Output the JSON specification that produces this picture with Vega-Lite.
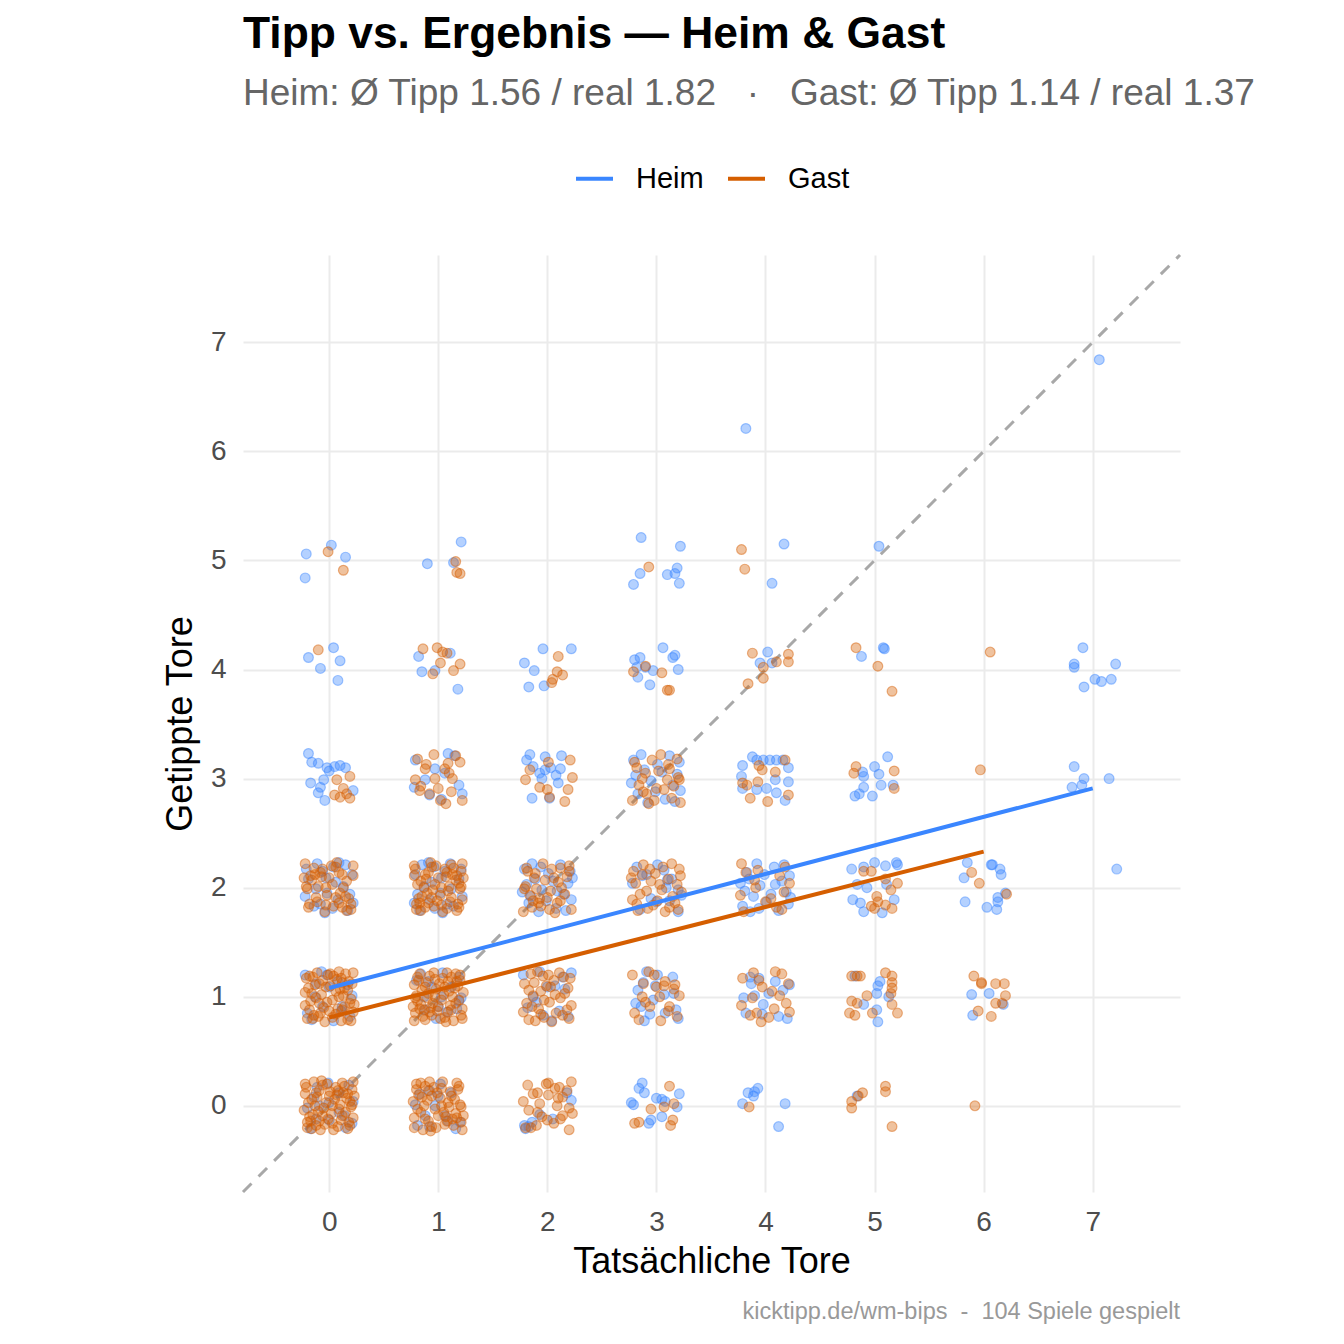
{
  "$schema": "https://vega.github.io/schema/vega-lite/v6.json",
  "width": 937,
  "height": 937,
  "autosize": "none",
  "padding": {"left": 243, "top": 255, "right": 164, "bottom": 152},
  "background": "white",
  "title": {
    "text": "Tipp vs. Ergebnis — Heim & Gast",
    "subtitle": "Heim: Ø Tipp 1.56 / real 1.82\u00a0\u00a0\u00a0·\u00a0\u00a0\u00a0Gast: Ø Tipp 1.14 / real 1.37",
    "anchor": "start",
    "frame": "group",
    "font": "Liberation Sans",
    "fontSize": 44.4,
    "fontWeight": "bold",
    "color": "#000000",
    "subtitleFont": "Liberation Sans",
    "subtitleFontSize": 37,
    "subtitleColor": "#666666",
    "subtitlePadding": 19,
    "offset": 45
  },
  "datasets": {
    "heim": [
      {"x":0.22,"y":0.04},{"x":0,"y":-0.13},{"x":0.18,"y":0.19},{"x":-0.09,"y":0},{"x":0.15,"y":-0.2},{"x":0.09,"y":0.12},{"x":-0.2,"y":-0.02},{"x":-0.01,"y":0.21},{"x":-0.12,"y":-0.12},{"x":-0.14,"y":0.08},{"x":0.09,"y":-0.06},{"x":-0.11,"y":0.17},{"x":0.21,"y":-0.16},{"x":0,"y":0.03},{"x":0.14,"y":-0.09},{"x":-0.17,"y":-0.21},
      {"x":-0.07,"y":1.23},{"x":0.11,"y":0.87},{"x":-0.22,"y":1.2},{"x":0.04,"y":0.78},{"x":-0.13,"y":1},{"x":0.19,"y":0.82},{"x":0,"y":1.09},{"x":-0.2,"y":0.85},{"x":0.12,"y":0.91},{"x":-0.02,"y":1.2},{"x":0.21,"y":1.01},{"x":-0.12,"y":1.12},{"x":0.08,"y":1.14},{"x":-0.06,"y":0.91},{"x":0.17,"y":1.11},{"x":-0.16,"y":0.79},
      {"x":0.17,"y":1.79},{"x":-0.19,"y":2.08},{"x":0.04,"y":2.19},{"x":-0.02,"y":1.95},{"x":-0.14,"y":1.83},{"x":0.21,"y":2.12},{"x":-0.11,"y":2.22},{"x":0.08,"y":1.89},{"x":0.13,"y":2.01},{"x":-0.04,"y":1.77},{"x":-0.06,"y":2.15},{"x":-0.22,"y":1.92},{"x":0.06,"y":2.05},{"x":0.22,"y":1.86},{"x":0.15,"y":2.21},{"x":-0.12,"y":1.99},{"x":-0.21,"y":2.17},{"x":0.03,"y":1.81},{"x":-0.03,"y":2.09},{"x":0.19,"y":1.94},{"x":0.09,"y":2.23},{"x":-0.08,"y":1.85},
      {"x":-0.19,"y":3.23},{"x":-0.16,"y":3.15},{"x":-0.1,"y":3.14},{"x":-0.02,"y":3.1},{"x":0.05,"y":3.11},{"x":0.1,"y":3.12},{"x":0.15,"y":3.1},{"x":0,"y":3.07},{"x":-0.05,"y":2.99},{"x":-0.17,"y":2.96},{"x":-0.08,"y":2.92},{"x":-0.1,"y":2.87},{"x":0.22,"y":2.89},{"x":-0.04,"y":2.8},
      {"x":-0.19,"y":4.11},{"x":0.04,"y":4.2},{"x":0.1,"y":4.08},{"x":-0.08,"y":4.01},{"x":0.08,"y":3.9},
      {"x":-0.21,"y":5.06},{"x":0.02,"y":5.14},{"x":0.15,"y":5.03},{"x":-0.22,"y":4.84},
      {"x":0.81,"y":-0.18},{"x":1,"y":0.09},{"x":1.2,"y":-0.15},{"x":0.88,"y":-0.09},{"x":1.02,"y":0.2},{"x":0.79,"y":0.01},{"x":1.12,"y":0.12},{"x":0.92,"y":0.14},{"x":1.06,"y":-0.09},{"x":0.83,"y":0.11},{"x":1.16,"y":-0.21},{"x":0.97,"y":0},{"x":1.09,"y":-0.14},{"x":0.92,"y":-0.19},
      {"x":1.04,"y":1.22},{"x":0.87,"y":1},{"x":1.19,"y":1.18},{"x":1,"y":0.91},{"x":0.8,"y":1.15},{"x":1.12,"y":1.09},{"x":0.98,"y":0.8},{"x":1.21,"y":0.99},{"x":0.88,"y":0.88},{"x":1.08,"y":0.86},{"x":0.94,"y":1.09},{"x":1.17,"y":0.89},{"x":0.84,"y":1.21},{"x":1.03,"y":1},{"x":0.91,"y":1.14},{"x":1.19,"y":0.96},
      {"x":0.83,"y":1.79},{"x":1.19,"y":2.08},{"x":0.96,"y":2.19},{"x":1.02,"y":1.95},{"x":1.14,"y":1.83},{"x":0.79,"y":2.12},{"x":1.11,"y":2.22},{"x":0.92,"y":1.89},{"x":0.87,"y":2.01},{"x":1.04,"y":1.77},{"x":1.06,"y":2.15},{"x":1.22,"y":1.92},{"x":0.94,"y":2.05},{"x":0.78,"y":1.86},{"x":0.85,"y":2.21},{"x":1.12,"y":1.99},{"x":1.21,"y":2.17},{"x":0.97,"y":1.81},{"x":1.03,"y":2.09},{"x":0.81,"y":1.94},{"x":0.91,"y":2.23},{"x":1.08,"y":1.85},
      {"x":0.78,"y":2.92},{"x":1.06,"y":3.05},{"x":1.22,"y":2.86},{"x":1.15,"y":3.21},{"x":0.88,"y":2.99},{"x":0.79,"y":3.17},{"x":1.03,"y":2.81},{"x":0.97,"y":3.09},{"x":1.19,"y":2.94},{"x":1.09,"y":3.23},{"x":0.92,"y":2.85},
      {"x":1.11,"y":4.15},{"x":0.82,"y":4.12},{"x":0.85,"y":3.98},{"x":0.97,"y":3.99},{"x":1.18,"y":3.82},
      {"x":0.9,"y":4.97},{"x":1.21,"y":5.17},{"x":1.14,"y":4.98},
      {"x":1.8,"y":-0.21},{"x":1.86,"y":-0.15},{"x":1.83,"y":-0.19},{"x":2.22,"y":0.05},{"x":2.18,"y":0.12},{"x":1.93,"y":-0.08},{"x":2.05,"y":-0.12},{"x":1.79,"y":-0.18},
      {"x":2.14,"y":1.18},{"x":1.96,"y":0.83},{"x":2.22,"y":1.22},{"x":1.82,"y":0.9},{"x":2.07,"y":1.1},{"x":1.9,"y":0.95},{"x":2.16,"y":1.07},{"x":1.93,"y":1.23},{"x":2.11,"y":0.87},{"x":1.78,"y":1.2},{"x":2.04,"y":0.78},{"x":1.87,"y":1},{"x":2.19,"y":0.82},{"x":2,"y":1.09},
      {"x":1.79,"y":2.17},{"x":2.08,"y":1.81},{"x":2.19,"y":2.04},{"x":1.95,"y":1.98},{"x":1.83,"y":1.86},{"x":2.12,"y":2.21},{"x":2.22,"y":1.89},{"x":1.89,"y":2.08},{"x":2.01,"y":2.13},{"x":1.77,"y":1.96},{"x":2.15,"y":1.94},{"x":1.92,"y":1.78},{"x":2.05,"y":2.06},{"x":1.86,"y":2.22},{"x":2.21,"y":2.15},{"x":1.99,"y":1.88},{"x":2.17,"y":1.79},{"x":1.81,"y":2.03},{"x":2.09,"y":1.97},{"x":1.94,"y":2.19},{"x":2.23,"y":2.09},{"x":1.85,"y":1.92},
      {"x":1.84,"y":3.22},{"x":1.81,"y":3.17},{"x":1.98,"y":3.2},{"x":2.13,"y":3.21},{"x":1.87,"y":3.11},{"x":1.93,"y":3.05},{"x":1.98,"y":3.08},{"x":2.03,"y":3.1},{"x":2.08,"y":3.03},{"x":2.12,"y":3.09},{"x":1.95,"y":3},{"x":2.1,"y":2.96},{"x":1.86,"y":2.82},{"x":2.02,"y":2.82},
      {"x":1.96,"y":4.19},{"x":2.22,"y":4.19},{"x":1.79,"y":4.06},{"x":1.88,"y":3.99},{"x":1.83,"y":3.84},{"x":1.97,"y":3.85},
      {"x":2.87,"y":0.21},{"x":2.84,"y":0.16},{"x":2.89,"y":0.12},{"x":2.79,"y":0.01},{"x":2.77,"y":0.03},{"x":3,"y":0.07},{"x":3.05,"y":0.06},{"x":3.08,"y":0.04},{"x":3.21,"y":0.11},{"x":3.19,"y":-0.01},{"x":3.05,"y":-0.1},{"x":2.95,"y":-0.13},{"x":2.93,"y":-0.16},
      {"x":2.81,"y":0.94},{"x":2.91,"y":1.23},{"x":3.08,"y":0.85},{"x":3.16,"y":1.03},{"x":2.89,"y":0.78},{"x":2.88,"y":1.13},{"x":2.97,"y":0.97},{"x":3.15,"y":1.18},{"x":3.18,"y":0.88},{"x":2.83,"y":1.06},{"x":3.2,"y":0.8},{"x":2.99,"y":1.1},{"x":2.86,"y":0.91},{"x":3.01,"y":1.2},{"x":2.94,"y":0.84},{"x":3.07,"y":1.02},
      {"x":3.1,"y":2.07},{"x":2.95,"y":1.9},{"x":3.07,"y":2.16},{"x":3.23,"y":1.93},{"x":2.87,"y":2.11},{"x":3.2,"y":1.78},{"x":2.78,"y":2.04},{"x":3,"y":1.87},{"x":2.82,"y":2.19},{"x":3.09,"y":2},{"x":2.85,"y":1.8},{"x":2.91,"y":2.12},{"x":3.2,"y":1.98},{"x":3.01,"y":2.21},{"x":3.12,"y":1.88},{"x":3.14,"y":2.08},
      {"x":2.79,"y":3.17},{"x":3.08,"y":2.81},{"x":3.19,"y":3.04},{"x":2.95,"y":2.98},{"x":2.83,"y":2.86},{"x":3.12,"y":3.21},{"x":3.22,"y":2.89},{"x":2.89,"y":3.08},{"x":3.01,"y":3.13},{"x":2.77,"y":2.96},{"x":3.15,"y":2.94},{"x":2.92,"y":2.78},{"x":3.05,"y":3.06},{"x":2.86,"y":3.22},{"x":3.21,"y":3.15},{"x":2.99,"y":2.88},{"x":3.17,"y":2.79},{"x":2.81,"y":3.03},
      {"x":3.06,"y":4.2},{"x":3.15,"y":4.11},{"x":3.17,"y":4.13},{"x":2.8,"y":4.09},{"x":2.85,"y":4.11},{"x":2.82,"y":4.02},{"x":2.9,"y":4.02},{"x":2.97,"y":3.99},{"x":2.83,"y":3.93},{"x":3.2,"y":4},{"x":2.94,"y":3.86},
      {"x":2.86,"y":5.21},{"x":3.22,"y":5.13},{"x":2.85,"y":4.88},{"x":2.79,"y":4.78},{"x":3.1,"y":4.87},{"x":3.17,"y":4.88},{"x":3.19,"y":4.93},{"x":3.21,"y":4.79},
      {"x":3.84,"y":0.12},{"x":3.9,"y":0.13},{"x":3.93,"y":0.16},{"x":3.89,"y":0.09},{"x":3.79,"y":0.02},{"x":4.18,"y":0.02},{"x":4.12,"y":-0.19},
      {"x":3.97,"y":0.84},{"x":4.22,"y":1.11},{"x":3.87,"y":1.12},{"x":4.03,"y":1.03},{"x":3.82,"y":0.85},{"x":4.12,"y":0.82},{"x":3.94,"y":1.17},{"x":4.2,"y":0.8},{"x":3.9,"y":1.01},{"x":4.09,"y":1.14},{"x":3.8,"y":0.99},{"x":4.16,"y":1.06},{"x":3.98,"y":0.93},{"x":3.86,"y":1.18},
      {"x":3.79,"y":1.83},{"x":4.08,"y":2.19},{"x":4.19,"y":1.96},{"x":3.95,"y":2.02},{"x":3.83,"y":2.14},{"x":4.12,"y":1.79},{"x":4.22,"y":2.11},{"x":3.89,"y":1.92},{"x":4.01,"y":1.87},{"x":3.77,"y":2.04},{"x":4.15,"y":2.06},{"x":3.92,"y":2.22},{"x":4.05,"y":1.94},{"x":3.86,"y":1.78},{"x":4.21,"y":1.85},{"x":3.99,"y":2.12},{"x":4.17,"y":2.21},{"x":3.81,"y":1.97},{"x":4.09,"y":2.03},{"x":3.94,"y":1.81},{"x":4.23,"y":1.91},{"x":3.85,"y":2.08},
      {"x":3.88,"y":3.2},{"x":3.92,"y":3.17},{"x":3.98,"y":3.17},{"x":4.04,"y":3.17},{"x":4.1,"y":3.17},{"x":4.16,"y":3.17},{"x":3.79,"y":3.12},{"x":3.78,"y":3.02},{"x":4.21,"y":3.1},{"x":4.21,"y":2.97},{"x":4.1,"y":2.87},{"x":4.18,"y":2.8},{"x":3.79,"y":2.91},{"x":4.01,"y":2.91},{"x":4.09,"y":2.99},{"x":3.92,"y":2.9},
      {"x":4.02,"y":4.16},{"x":3.95,"y":4.06},{"x":4.06,"y":4.06},
      {"x":4.17,"y":5.15},{"x":4.06,"y":4.79},
      {"x":3.82,"y":6.21},
      {"x":4.84,"y":0.09},
      {"x":5.05,"y":1.14},{"x":5.03,"y":1.1},{"x":5.02,"y":1.03},{"x":4.9,"y":0.93},{"x":5.02,"y":0.88},{"x":5.03,"y":0.77},{"x":5.13,"y":1},{"x":4.82,"y":1.19},
      {"x":4.79,"y":2.17},{"x":4.9,"y":2.19},{"x":5,"y":2.23},{"x":5.1,"y":2.2},{"x":5.2,"y":2.23},{"x":5.21,"y":2.21},{"x":4.84,"y":2.03},{"x":4.93,"y":2},{"x":5.11,"y":2.03},{"x":4.8,"y":1.89},{"x":4.87,"y":1.86},{"x":5.18,"y":1.89},{"x":4.9,"y":1.78},{"x":5.07,"y":1.77},
      {"x":5.12,"y":3.2},{"x":5,"y":3.11},{"x":4.89,"y":3.06},{"x":4.9,"y":3.02},{"x":5.04,"y":3.04},{"x":5.06,"y":2.94},{"x":5.17,"y":2.94},{"x":4.9,"y":2.92},{"x":4.86,"y":2.86},{"x":4.82,"y":2.84},{"x":4.98,"y":2.84},
      {"x":4.88,"y":4.12},{"x":5.08,"y":4.2},{"x":5.09,"y":4.19},
      {"x":5.04,"y":5.13},
      {"x":5.89,"y":1.02},{"x":6.05,"y":1.03},{"x":6.18,"y":0.93},{"x":5.9,"y":0.83},
      {"x":5.85,"y":2.23},{"x":6.07,"y":2.21},{"x":6.08,"y":2.21},{"x":6.15,"y":2.17},{"x":6.16,"y":2.12},{"x":5.82,"y":2.09},{"x":6.2,"y":1.95},{"x":6.13,"y":1.91},{"x":6.13,"y":1.87},{"x":5.83,"y":1.87},{"x":6.03,"y":1.82},{"x":6.12,"y":1.8},
      {"x":7.22,"y":2.17},{"x":6.83,"y":3.11},{"x":6.92,"y":3},{"x":7.15,"y":3},{"x":6.81,"y":2.92},{"x":6.9,"y":2.94},{"x":6.91,"y":4.2},{"x":6.83,"y":4.05},{"x":6.83,"y":4.02},{"x":7.21,"y":4.05},{"x":7.02,"y":3.91},{"x":7.08,"y":3.89},{"x":7.17,"y":3.91},{"x":6.92,"y":3.84},{"x":7.06,"y":6.84}
    ],
    "gast": [
      {"x":-0.21,"y":0.17},{"x":0.08,"y":-0.19},{"x":0.19,"y":0.04},{"x":-0.05,"y":-0.02},{"x":-0.17,"y":-0.14},{"x":0.12,"y":0.21},{"x":0.22,"y":-0.11},{"x":-0.11,"y":0.08},{"x":0.01,"y":0.13},{"x":-0.23,"y":-0.04},{"x":0.15,"y":-0.06},{"x":-0.08,"y":-0.22},{"x":0.05,"y":0.06},{"x":-0.14,"y":0.22},{"x":0.21,"y":0.15},{"x":-0.01,"y":-0.12},{"x":0.17,"y":-0.21},{"x":-0.19,"y":0.03},{"x":0.09,"y":-0.03},{"x":-0.06,"y":0.19},{"x":0.23,"y":0.09},{"x":-0.15,"y":-0.08},{"x":0.03,"y":-0.16},{"x":-0.22,"y":0.11},{"x":0.13,"y":0.12},{"x":-0.03,"y":0.03},{"x":0.18,"y":-0.15},{"x":-0.12,"y":-0.18},{"x":0.06,"y":0.17},{"x":-0.2,"y":-0.2},{"x":0.1,"y":0.01},{"x":-0.09,"y":0.14},{"x":0.2,"y":-0.01},{"x":-0.16,"y":0.06},{"x":0.02,"y":-0.07},{"x":0.14,"y":0.18},{"x":-0.04,"y":-0.17},{"x":0.22,"y":0.22},{"x":-0.18,"y":-0.1},{"x":0.07,"y":0.1},{"x":-0.1,"y":-0.05},{"x":0.16,"y":0.07},{"x":-0.07,"y":0.23},{"x":0.11,"y":-0.13},{"x":-0.22,"y":0.2},
      {"x":0.04,"y":-0.22},{"x":-0.13,"y":0},{"x":0.19,"y":-0.18},{"x":0,"y":0.09},{"x":-0.2,"y":-0.15},{"x":0.12,"y":-0.09},{"x":-0.02,"y":0.2},{"x":0.21,"y":0.01},{"x":-0.12,"y":0.12},{"x":0.08,"y":0.14},{"x":-0.06,"y":-0.09},{"x":0.17,"y":0.11},{"x":-0.16,"y":-0.21},{"x":0.03,"y":0},{"x":-0.09,"y":-0.14},
      {"x":0.17,"y":0.79},{"x":-0.19,"y":1.08},{"x":0.04,"y":1.19},{"x":-0.02,"y":0.95},{"x":-0.14,"y":0.83},{"x":0.21,"y":1.12},{"x":-0.11,"y":1.22},{"x":0.08,"y":0.89},{"x":0.13,"y":1.01},{"x":-0.04,"y":0.77},{"x":-0.06,"y":1.15},{"x":-0.22,"y":0.92},{"x":0.06,"y":1.05},{"x":0.22,"y":0.86},{"x":0.15,"y":1.21},{"x":-0.12,"y":0.99},{"x":-0.21,"y":1.17},{"x":0.03,"y":0.81},{"x":-0.03,"y":1.09},{"x":0.19,"y":0.94},{"x":0.09,"y":1.23},{"x":-0.08,"y":0.85},{"x":-0.16,"y":1.03},{"x":0.11,"y":0.78},{"x":0.12,"y":1.13},{"x":0.03,"y":0.97},{"x":-0.15,"y":1.18},{"x":-0.18,"y":0.88},{"x":0.17,"y":1.06},{"x":-0.2,"y":0.8},{"x":0.01,"y":1.1},{"x":0.14,"y":0.91},{"x":-0.01,"y":1.2},{"x":0.06,"y":0.84},{"x":-0.07,"y":1.02},{"x":0.18,"y":1.14},{"x":-0.17,"y":0.96},{"x":0.22,"y":1.22},{"x":-0.1,"y":0.82},{"x":0.1,"y":1.07},{"x":-0.05,"y":0.9},{"x":0.07,"y":1.16},
      {"x":0.23,"y":0.93},{"x":-0.13,"y":1.11},{"x":0.2,"y":0.78},{"x":-0.22,"y":1.04},{"x":0,"y":0.87},{"x":-0.18,"y":1.19},{"x":0.09,"y":1},{"x":-0.15,"y":0.8},{"x":-0.09,"y":1.12},{"x":0.2,"y":0.98},{"x":0.01,"y":1.21},{"x":0.12,"y":0.88},{"x":0.14,"y":1.08},{"x":-0.09,"y":0.94},{"x":0.11,"y":1.17},
      {"x":0.06,"y":2.19},{"x":-0.23,"y":2.09},{"x":0.15,"y":1.92},{"x":-0.03,"y":1.84},{"x":0.22,"y":2.11},{"x":-0.13,"y":2.12},{"x":0.03,"y":2.03},{"x":-0.18,"y":1.85},{"x":0.12,"y":1.82},{"x":-0.06,"y":2.17},{"x":0.2,"y":1.8},{"x":-0.1,"y":2.01},{"x":0.09,"y":2.14},{"x":-0.2,"y":1.99},{"x":0.16,"y":2.06},{"x":-0.02,"y":1.93},{"x":-0.14,"y":2.18},{"x":0.04,"y":1.83},{"x":-0.22,"y":2.22},{"x":0.18,"y":1.9},{"x":-0.07,"y":2.1},{"x":0.1,"y":1.95},{"x":-0.16,"y":2.07},{"x":0.07,"y":2.23},{"x":-0.11,"y":1.87},{"x":0.22,"y":2.2},{"x":-0.04,"y":1.78},{"x":0.13,"y":2},{"x":-0.19,"y":1.82},{"x":0,"y":2.09},{"x":0.2,"y":1.85},{"x":-0.12,"y":1.91},
      {"x":0.02,"y":2.2},{"x":-0.21,"y":2.01},{"x":0.12,"y":2.12},{"x":-0.08,"y":2.14},{"x":0.06,"y":1.91},{"x":-0.17,"y":2.11},{"x":0.16,"y":1.79},{"x":-0.03,"y":2},{"x":0.09,"y":1.86},
      {"x":0.07,"y":2.99},{"x":0.19,"y":3.02},{"x":0.13,"y":2.91},{"x":0.16,"y":2.86},{"x":0.1,"y":2.83},{"x":0.19,"y":2.82},{"x":0.05,"y":2.85},
      {"x":-0.1,"y":4.18},
      {"x":-0.01,"y":5.08},{"x":0.13,"y":4.91},
      {"x":0.77,"y":0.04},{"x":1.15,"y":0.06},{"x":0.92,"y":0.22},{"x":1.05,"y":-0.06},{"x":0.86,"y":-0.22},{"x":1.21,"y":-0.15},{"x":0.99,"y":0.12},{"x":1.17,"y":0.21},{"x":0.81,"y":-0.03},{"x":1.09,"y":0.03},{"x":0.94,"y":-0.19},{"x":1.23,"y":-0.09},{"x":0.85,"y":0.08},{"x":1.03,"y":0.16},{"x":0.78,"y":-0.11},{"x":1.13,"y":-0.12},{"x":0.97,"y":-0.03},{"x":1.18,"y":0.15},{"x":0.88,"y":0.18},{"x":1.06,"y":-0.17},{"x":0.8,"y":0.2},{"x":1.1,"y":-0.01},{"x":0.91,"y":-0.14},{"x":1.2,"y":0.01},{"x":0.84,"y":-0.06},{"x":1.02,"y":0.07},{"x":1.14,"y":-0.18},{"x":0.96,"y":0.17},{"x":1.22,"y":-0.22},{"x":0.82,"y":0.1},{"x":1.07,"y":-0.1},{"x":0.9,"y":0.05},{"x":1.16,"y":-0.07},{"x":0.93,"y":-0.23},{"x":1.11,"y":0.13},{"x":0.78,"y":-0.2},{"x":1.04,"y":0.22},{"x":0.87,"y":0},
      {"x":1.19,"y":0.18},{"x":1,"y":-0.09},{"x":0.8,"y":0.15},{"x":1.12,"y":0.09},{"x":0.98,"y":-0.2},{"x":1.21,"y":-0.01},{"x":0.88,"y":-0.12},{"x":1.08,"y":-0.14},{"x":0.94,"y":0.09},{"x":1.17,"y":-0.11},{"x":0.84,"y":0.21},{"x":1.03,"y":0},{"x":0.91,"y":0.14},
      {"x":1.21,"y":0.83},{"x":0.92,"y":1.19},{"x":0.81,"y":0.96},{"x":1.05,"y":1.02},{"x":1.17,"y":1.14},{"x":0.88,"y":0.79},{"x":0.78,"y":1.11},{"x":1.11,"y":0.92},{"x":0.99,"y":0.87},{"x":1.23,"y":1.04},{"x":0.85,"y":1.06},{"x":1.08,"y":1.22},{"x":0.95,"y":0.94},{"x":1.14,"y":0.78},{"x":0.79,"y":0.85},{"x":1.01,"y":1.12},{"x":0.83,"y":1.21},{"x":1.19,"y":0.97},{"x":0.91,"y":1.03},{"x":1.06,"y":0.81},{"x":0.77,"y":0.91},{"x":1.15,"y":1.08},{"x":0.97,"y":1.16},{"x":1.22,"y":0.89},{"x":0.87,"y":0.88},{"x":1.03,"y":0.97},{"x":0.82,"y":1.15},{"x":1.12,"y":1.18},{"x":0.94,"y":0.83},{"x":1.2,"y":1.2},{"x":0.9,"y":0.99},{"x":1.09,"y":0.86},{"x":0.8,"y":1.01},{"x":1.16,"y":0.94},{"x":0.98,"y":1.07},{"x":0.86,"y":0.82},{"x":1.04,"y":1.17},{"x":0.78,"y":0.78},{"x":1.18,"y":1.1},{"x":0.93,"y":0.9},{"x":1.1,"y":1.05},{"x":0.84,"y":0.93},{"x":1.07,"y":0.77},{"x":0.89,"y":1.13},{"x":1.22,"y":0.8},
      {"x":0.96,"y":1.22},{"x":1.13,"y":1},{"x":0.81,"y":1.18},{"x":1,"y":0.91},{"x":1.2,"y":1.15},{"x":0.88,"y":1.09},{"x":1.02,"y":0.8},{"x":0.79,"y":0.99},{"x":1.12,"y":0.88},{"x":0.92,"y":0.86},{"x":1.06,"y":1.09},{"x":0.83,"y":0.89},{"x":1.16,"y":1.21},{"x":0.97,"y":1},{"x":1.09,"y":1.14},
      {"x":1.21,"y":2.15},{"x":0.99,"y":1.88},{"x":1.17,"y":1.79},{"x":0.81,"y":2.03},{"x":1.09,"y":1.97},{"x":0.94,"y":2.19},{"x":1.23,"y":2.09},{"x":0.85,"y":1.92},{"x":1.03,"y":1.84},{"x":0.78,"y":2.11},{"x":1.13,"y":2.12},{"x":0.97,"y":2.03},{"x":1.18,"y":1.85},{"x":0.88,"y":1.82},{"x":1.06,"y":2.17},{"x":0.8,"y":1.8},{"x":1.1,"y":2.01},{"x":0.91,"y":2.14},{"x":1.2,"y":1.99},{"x":0.84,"y":2.06},{"x":1.02,"y":1.93},{"x":1.14,"y":2.18},{"x":0.96,"y":1.83},{"x":1.22,"y":2.22},{"x":0.82,"y":1.9},{"x":1.07,"y":2.1},{"x":0.9,"y":1.95},{"x":1.16,"y":2.07},{"x":0.93,"y":2.23},{"x":1.11,"y":1.87},{"x":0.78,"y":2.2},{"x":1.04,"y":1.78},{"x":0.87,"y":2},{"x":1.19,"y":1.82},{"x":1,"y":2.09},{"x":0.8,"y":1.85},{"x":1.12,"y":1.91},{"x":0.98,"y":2.2},{"x":1.21,"y":2.01},{"x":0.88,"y":2.12},{"x":1.08,"y":2.14},{"x":0.94,"y":1.91},
      {"x":1.17,"y":2.11},{"x":0.84,"y":1.79},{"x":1.03,"y":2},{"x":0.91,"y":1.86},{"x":0.79,"y":2.17},{"x":1.08,"y":1.81},{"x":1.19,"y":2.04},{"x":0.95,"y":1.98},{"x":0.83,"y":1.86},{"x":1.12,"y":2.21},{"x":1.22,"y":1.89},{"x":0.89,"y":2.08},
      {"x":1.1,"y":3.05},{"x":0.84,"y":2.93},{"x":1.07,"y":2.77},{"x":0.89,"y":3.13},{"x":1.22,"y":2.8},{"x":0.96,"y":3.22},{"x":1.13,"y":3},{"x":0.81,"y":3.18},{"x":1,"y":2.91},{"x":1.2,"y":3.15},{"x":0.88,"y":3.09},{"x":1.02,"y":2.8},{"x":0.79,"y":2.99},{"x":1.12,"y":2.88},{"x":0.92,"y":2.86},{"x":1.06,"y":3.09},{"x":0.83,"y":2.89},{"x":1.16,"y":3.21},{"x":0.97,"y":3},{"x":1.09,"y":3.14},
      {"x":0.86,"y":4.19},{"x":0.99,"y":4.2},{"x":1.04,"y":4.16},{"x":1.08,"y":4.15},{"x":1.02,"y":4.06},{"x":1.2,"y":4.05},{"x":0.95,"y":3.96},{"x":1.14,"y":3.99},
      {"x":1.16,"y":4.99},{"x":1.17,"y":4.89},{"x":1.2,"y":4.88},
      {"x":1.8,"y":-0.2},{"x":2.01,"y":0.1},{"x":2.14,"y":-0.09},{"x":1.99,"y":0.2},{"x":2.06,"y":-0.16},{"x":1.93,"y":0.02},{"x":2.18,"y":0.14},{"x":1.83,"y":-0.04},{"x":2.22,"y":0.22},{"x":1.9,"y":-0.18},{"x":2.1,"y":0.07},{"x":1.95,"y":-0.1},{"x":2.07,"y":0.16},{"x":2.23,"y":-0.07},{"x":1.87,"y":0.11},{"x":2.2,"y":-0.22},{"x":1.78,"y":0.04},{"x":2,"y":-0.13},{"x":1.82,"y":0.19},{"x":2.09,"y":0},{"x":1.85,"y":-0.2},{"x":1.91,"y":0.12},{"x":2.2,"y":-0.02},{"x":2.01,"y":0.21},{"x":2.12,"y":-0.12},{"x":2.14,"y":0.08},{"x":1.91,"y":-0.06},{"x":2.11,"y":0.17},
      {"x":1.83,"y":0.79},{"x":2.19,"y":1.08},{"x":1.96,"y":1.19},{"x":2.02,"y":0.95},{"x":2.14,"y":0.83},{"x":1.79,"y":1.12},{"x":2.11,"y":1.22},{"x":1.92,"y":0.89},{"x":1.87,"y":1.01},{"x":2.04,"y":0.77},{"x":2.06,"y":1.15},{"x":2.22,"y":0.92},{"x":1.94,"y":1.05},{"x":1.78,"y":0.86},{"x":1.85,"y":1.21},{"x":2.12,"y":0.99},{"x":2.21,"y":1.17},{"x":1.97,"y":0.81},{"x":2.03,"y":1.09},{"x":1.81,"y":0.94},{"x":1.91,"y":1.23},{"x":2.08,"y":0.85},{"x":2.16,"y":1.03},{"x":1.89,"y":0.78},{"x":1.88,"y":1.13},{"x":1.97,"y":0.97},{"x":2.15,"y":1.18},{"x":2.18,"y":0.88},{"x":1.83,"y":1.06},{"x":2.2,"y":0.8},{"x":1.99,"y":1.1},{"x":1.86,"y":0.91},{"x":2.01,"y":1.2},{"x":1.94,"y":0.84},{"x":2.07,"y":1.02},
      {"x":1.87,"y":1.88},{"x":2.03,"y":1.97},{"x":1.82,"y":2.15},{"x":2.12,"y":2.18},{"x":1.94,"y":1.83},{"x":2.2,"y":2.2},{"x":1.9,"y":1.99},{"x":2.09,"y":1.86},{"x":1.8,"y":2.01},{"x":2.16,"y":1.94},{"x":1.98,"y":2.07},{"x":1.86,"y":1.82},{"x":2.04,"y":2.17},{"x":1.78,"y":1.78},{"x":2.18,"y":2.1},{"x":1.93,"y":1.9},{"x":2.1,"y":2.05},{"x":1.84,"y":1.93},{"x":2.07,"y":1.77},{"x":1.89,"y":2.13},{"x":2.22,"y":1.8},{"x":1.96,"y":2.22},{"x":2.13,"y":2},{"x":1.81,"y":2.18},{"x":2,"y":1.91},{"x":2.2,"y":2.15},{"x":1.88,"y":2.09},{"x":2.02,"y":1.8},{"x":1.79,"y":1.99},{"x":2.12,"y":1.88},{"x":1.92,"y":1.86},{"x":2.06,"y":2.09},
      {"x":2.01,"y":3.15},{"x":2.21,"y":3.17},{"x":1.84,"y":3.08},{"x":1.8,"y":2.99},{"x":2.23,"y":3.01},{"x":1.93,"y":2.92},{"x":2,"y":2.9},{"x":2.02,"y":2.83},{"x":2.19,"y":2.9},{"x":2.16,"y":2.79},
      {"x":2.1,"y":4.12},{"x":2.09,"y":3.98},{"x":2.14,"y":3.95},{"x":2.05,"y":3.91},{"x":2.04,"y":3.88},
      {"x":3.12,"y":0.18},{"x":2.95,"y":-0.03},{"x":3.07,"y":-0.01},{"x":3.16,"y":0.02},{"x":2.84,"y":-0.15},{"x":2.8,"y":-0.16},{"x":3.13,"y":-0.18},{"x":3.15,"y":-0.13},
      {"x":3.07,"y":1.1},{"x":2.9,"y":0.95},{"x":3.16,"y":1.07},{"x":2.93,"y":1.23},{"x":3.11,"y":0.87},{"x":2.78,"y":1.2},{"x":3.04,"y":0.78},{"x":2.87,"y":1},{"x":3.19,"y":0.82},{"x":3,"y":1.09},{"x":2.8,"y":0.85},{"x":3.12,"y":0.91},{"x":2.98,"y":1.2},{"x":3.21,"y":1.01},{"x":2.88,"y":1.12},{"x":3.08,"y":1.14},{"x":2.94,"y":0.91},{"x":3.17,"y":1.11},{"x":2.84,"y":0.79},{"x":3.03,"y":1},
      {"x":3.21,"y":2.17},{"x":2.92,"y":1.81},{"x":2.81,"y":2.04},{"x":3.05,"y":1.98},{"x":3.17,"y":1.86},{"x":2.88,"y":2.21},{"x":2.78,"y":1.89},{"x":3.11,"y":2.08},{"x":2.99,"y":2.13},{"x":3.23,"y":1.96},{"x":2.85,"y":1.94},{"x":3.08,"y":1.78},{"x":2.95,"y":2.06},{"x":3.14,"y":2.22},{"x":2.79,"y":2.15},{"x":3.01,"y":1.88},{"x":2.83,"y":1.79},{"x":3.19,"y":2.03},{"x":2.91,"y":1.97},{"x":3.06,"y":2.19},{"x":2.77,"y":2.09},{"x":3.15,"y":1.92},{"x":2.97,"y":1.84},{"x":3.22,"y":2.11},{"x":2.87,"y":2.12},{"x":3.03,"y":2.03},{"x":2.82,"y":1.85},{"x":3.12,"y":1.82},{"x":2.94,"y":2.17},{"x":3.2,"y":1.8},
      {"x":3.1,"y":2.99},{"x":2.91,"y":2.86},{"x":3.2,"y":3.01},{"x":2.84,"y":2.94},{"x":3.02,"y":3.07},{"x":3.14,"y":2.82},{"x":2.96,"y":3.17},{"x":3.22,"y":2.78},{"x":2.82,"y":3.1},{"x":3.07,"y":2.9},{"x":2.9,"y":3.05},{"x":3.16,"y":2.93},{"x":2.93,"y":2.77},{"x":3.11,"y":3.13},{"x":2.78,"y":2.8},{"x":3.04,"y":3.22},{"x":2.87,"y":3},{"x":3.19,"y":3.18},{"x":3,"y":2.91},{"x":2.8,"y":3.15},{"x":3.12,"y":3.09},{"x":2.98,"y":2.8},{"x":3.21,"y":2.99},{"x":2.88,"y":2.88},
      {"x":2.9,"y":4.03},{"x":2.79,"y":3.98},{"x":3.05,"y":3.97},{"x":3.1,"y":3.81},{"x":3.12,"y":3.81},
      {"x":2.93,"y":4.94},
      {"x":3.85,"y":-0.01},
      {"x":3.86,"y":0.83},{"x":4.21,"y":1.12},{"x":3.89,"y":1.22},{"x":4.08,"y":0.89},{"x":4.13,"y":1.01},{"x":3.96,"y":0.77},{"x":3.94,"y":1.15},{"x":3.78,"y":0.92},{"x":4.06,"y":1.05},{"x":4.22,"y":0.86},{"x":4.15,"y":1.21},{"x":3.88,"y":0.99},{"x":3.79,"y":1.17},{"x":4.03,"y":0.81},{"x":3.97,"y":1.09},{"x":4.19,"y":0.94},{"x":4.09,"y":1.23},{"x":3.92,"y":0.85},
      {"x":3.82,"y":2.14},{"x":4.17,"y":1.96},{"x":3.78,"y":2.22},{"x":4.1,"y":1.82},{"x":3.9,"y":2.07},{"x":4.05,"y":1.9},{"x":3.93,"y":2.16},{"x":3.77,"y":1.93},{"x":4.13,"y":2.11},{"x":3.8,"y":1.78},{"x":4.22,"y":2.04},{"x":4,"y":1.87},{"x":4.18,"y":2.19},{"x":3.91,"y":2},{"x":4.15,"y":1.8},
      {"x":3.79,"y":2.96},{"x":3.83,"y":2.94},{"x":3.94,"y":3.12},{"x":3.97,"y":3.08},{"x":4.09,"y":3.06},{"x":3.93,"y":2.97},{"x":4.18,"y":3.17},{"x":4.21,"y":2.85},{"x":3.86,"y":2.82},{"x":4.02,"y":2.79},
      {"x":3.88,"y":4.15},{"x":3.98,"y":4.02},{"x":4.1,"y":4.07},{"x":4.21,"y":4.14},{"x":4.21,"y":4.07},{"x":3.98,"y":3.92},{"x":3.84,"y":3.87},
      {"x":3.78,"y":5.1},{"x":3.81,"y":4.92},
      {"x":4.89,"y":0.12},{"x":4.85,"y":0.09},{"x":4.79,"y":0.04},{"x":4.79,"y":-0.02},{"x":5.1,"y":0.18},{"x":5.1,"y":0.13},{"x":5.16,"y":-0.19},
      {"x":4.79,"y":1.19},{"x":4.84,"y":1.19},{"x":4.87,"y":1.19},{"x":5.1,"y":1.22},{"x":5.16,"y":1.19},{"x":5.16,"y":1.13},{"x":5.16,"y":1.08},{"x":5.15,"y":1.03},{"x":4.93,"y":1.01},{"x":4.79,"y":0.96},{"x":4.84,"y":0.94},{"x":4.77,"y":0.85},{"x":4.82,"y":0.83},{"x":4.98,"y":0.85},{"x":5.21,"y":0.85},{"x":5.16,"y":0.93},
      {"x":4.9,"y":2.15},{"x":4.97,"y":2.15},{"x":5.1,"y":2.08},{"x":5.15,"y":1.98},{"x":5.21,"y":2.04},{"x":5.02,"y":1.92},{"x":5.03,"y":1.87},{"x":4.97,"y":1.83},{"x":5,"y":1.81},{"x":5.1,"y":1.84},{"x":5.16,"y":1.81},
      {"x":4.83,"y":3.11},{"x":4.81,"y":3.05},{"x":5.18,"y":3.07},{"x":5.18,"y":2.91},
      {"x":4.83,"y":4.2},{"x":5.03,"y":4.03},{"x":5.16,"y":3.8},
      {"x":5.92,"y":0},
      {"x":5.91,"y":1.19},{"x":5.98,"y":1.13},{"x":5.98,"y":1.12},{"x":6.11,"y":1.12},{"x":6.19,"y":1.12},{"x":6.2,"y":1.01},{"x":6.11,"y":0.94},{"x":6.17,"y":0.94},{"x":5.95,"y":0.87},{"x":6.07,"y":0.82},
      {"x":5.89,"y":2.14},{"x":5.96,"y":2.04},{"x":6.21,"y":1.94},
      {"x":5.97,"y":3.08},
      {"x":6.06,"y":4.16}
    ],
    "fits": [
      {"team":"Heim","x":0,"y":1.08},{"team":"Heim","x":7,"y":2.91},
      {"team":"Gast","x":0,"y":0.81},{"team":"Gast","x":6,"y":2.33}
    ],
    "diag": [{"x":-0.79,"y":-0.79},{"x":7.8,"y":7.8}],
    "note": [{"caption":"kicktipp.de/wm-bips\u00a0\u00a0-\u00a0\u00a0104 Spiele gespielt"}]
  },
  "layer": [
    {
      "data": {"name": "diag"},
      "mark": {"type": "line", "color": "#a8a8a8", "strokeWidth": 3, "strokeDash": [12, 10]},
      "encoding": {
        "x": {
          "field": "x",
          "type": "quantitative",
          "scale": {"domain": [-0.79, 7.8], "nice": false, "zero": false},
          "axis": {"values": [0,1,2,3,4,5,6,7], "format": "d", "title": "Tatsächliche Tore", "labelPadding": 16, "titlePadding": 8}
        },
        "y": {
          "field": "y",
          "type": "quantitative",
          "scale": {"domain": [-0.79, 7.8], "nice": false, "zero": false},
          "axis": {"values": [0,1,2,3,4,5,6,7], "format": "d", "title": "Getippte Tore", "labelPadding": 17, "titlePadding": 11}
        }
      }
    },
    {
      "data": {"name": "heim"},
      "mark": {"type": "circle", "size": 96, "fill": "#3a86ff", "fillOpacity": 0.38, "stroke": "#3a86ff", "strokeOpacity": 0.45, "strokeWidth": 1.2},
      "encoding": {
        "x": {"field": "x", "type": "quantitative"},
        "y": {"field": "y", "type": "quantitative"}
      }
    },
    {
      "data": {"name": "gast"},
      "mark": {"type": "circle", "size": 96, "fill": "#d55e00", "fillOpacity": 0.38, "stroke": "#d55e00", "strokeOpacity": 0.45, "strokeWidth": 1.2},
      "encoding": {
        "x": {"field": "x", "type": "quantitative"},
        "y": {"field": "y", "type": "quantitative"}
      }
    },
    {
      "data": {"name": "fits"},
      "mark": {"type": "line", "strokeWidth": 4},
      "encoding": {
        "x": {"field": "x", "type": "quantitative"},
        "y": {"field": "y", "type": "quantitative"},
        "color": {
          "field": "team",
          "type": "nominal",
          "title": null,
          "scale": {"domain": ["Heim", "Gast"], "range": ["#3a86ff", "#d55e00"]},
          "legend": {"orient": "none", "legendX": 331, "legendY": -97, "direction": "horizontal"}
        }
      }
    },
    {
      "data": {"name": "note"},
      "mark": {"type": "text", "clip": false, "align": "right", "baseline": "middle", "font": "Liberation Sans", "fontSize": 23.5, "color": "#999999"},
      "encoding": {
        "x": {"datum": 7.8, "type": "quantitative"},
        "y": {"datum": -1.89, "type": "quantitative"},
        "text": {"field": "caption", "type": "nominal"}
      }
    }
  ],
  "config": {
    "view": {"stroke": null},
    "axis": {
      "domain": false,
      "ticks": false,
      "grid": true,
      "gridColor": "#ebebeb",
      "gridWidth": 2,
      "labelFont": "Liberation Sans",
      "labelFontSize": 28,
      "labelColor": "#4d4d4d",
      "titleFont": "Liberation Sans",
      "titleFontSize": 36,
      "titleFontWeight": "normal",
      "titleColor": "#000000"
    },
    "legend": {
      "symbolType": "stroke",
      "symbolStrokeWidth": 4,
      "symbolSize": 1369,
      "labelFont": "Liberation Sans",
      "labelFontSize": 29,
      "labelColor": "#000000",
      "labelOffset": 21,
      "columnPadding": 16,
      "padding": 0
    }
  }
}
